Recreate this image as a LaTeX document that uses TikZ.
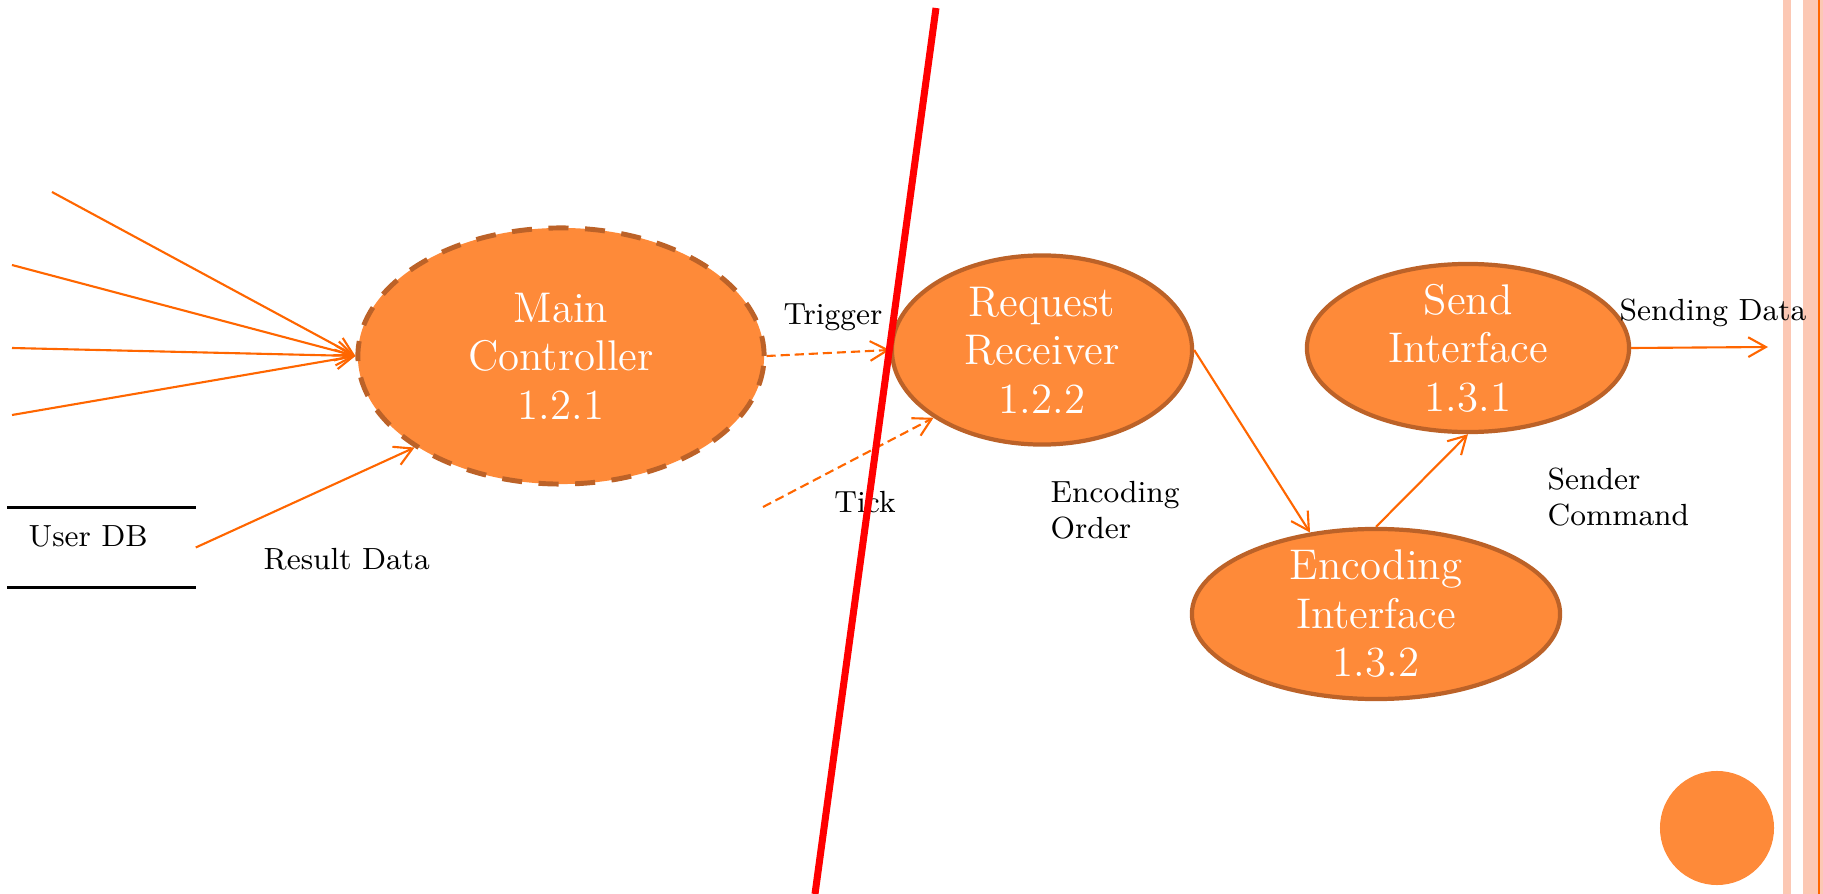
\documentclass[tikz,border=0pt]{standalone}
\usetikzlibrary{shapes.geometric,arrows.meta}
\definecolor{procfill}{RGB}{254,138,57}
\definecolor{procedge}{RGB}{188,98,40}
\definecolor{flowc}{RGB}{255,102,0}
\definecolor{stripec}{RGB}{252,200,180}
\begin{document}
\begin{tikzpicture}[x=0.01cm,y=-0.01cm,
  proc/.style={ellipse,fill=procfill,draw=procedge,line width=1.2pt,text=white,align=center,
    font=\fontsize{12.2}{13.8}\selectfont,inner xsep=0pt,inner ysep=-1.5pt},
  lbl/.style={font=\fontsize{8.7}{10}\selectfont,inner sep=0pt,align=left,anchor=base west},
  flow/.style={draw=flowc,line width=0.6pt,-{Straight Barb[length=5pt,width=5.6pt]}},
  dflow/.style={flow,dash pattern=on 2.6pt off 1.4pt}]
\useasboundingbox (0,0) rectangle (1823,894);
% side stripes
\fill[stripec] (1783,0) rectangle (1791,894);
\fill[stripec] (1803,0) rectangle (1823,894);
\draw[flowc,line width=0.3pt] (1819,0) -- (1819,894);

% processes
\node(main) [proc,minimum width=4.06cm,minimum height=2.56cm,line width=1.4pt,dash pattern=on 5.7pt off 4.7pt] at (561,356) {Main\\Controller\\1.2.1};
\node(recv) [proc,minimum width=3.00cm,minimum height=1.89cm] at (1042,350) {Request\\Receiver\\1.2.2};
\node(send) [proc,minimum width=3.22cm,minimum height=1.68cm] at (1468,348) {Send\\Interface\\1.3.1};
\node(enc) [proc,minimum width=3.68cm,minimum height=1.70cm] at (1376,614) {Encoding\\Interface\\1.3.2};
\node(dot) [circle,fill=procfill,inner sep=0pt,minimum size=1.14cm] at (1717,828) {};

% data store
\node(db) [inner sep=0pt,minimum width=1.87cm,minimum height=0.79cm] at (101.5,547.5) {};
\draw[line width=0.8pt] (db.north west) -- (db.north east);
\draw[line width=0.8pt] (db.south west) -- (db.south east);
\node(dbtext) [lbl] at (28,547) {User DB};

% free ends
\coordinate(in1) at (52,192);
\coordinate(in2) at (12,265);
\coordinate(in3) at (12,348);
\coordinate(in4) at (12,415);
\coordinate(tickin) at (763,507);
\coordinate(out) at (1768,347);

% flows
\draw[flow] (in1) -- (main.west);
\draw[flow] (in2) -- (main.west);
\draw[flow] (in3) -- (main.west);
\draw[flow] (in4) -- (main.west);
\draw[flow] (db.east) -- (main.212);
\draw[dflow] (main.east) -- (recv.west);
\draw[dflow] (tickin) -- (recv.212);
\draw[flow] (recv.east) -- (enc.129);
\draw[flow] (enc.north) -- (send.south);
\draw[flow] (send.east) -- (out);

% labels
\node(res) [lbl] at (263,570) {Result Data};
\node(trig) [lbl,anchor=base] at (833,325) {Trigger};
\node(tick) [lbl,anchor=base] at (865,512) {Tick};
\node(encord) [lbl] at (1050,538) {Encoding\\Order};
\node(sendcmd) [lbl] at (1547,525) {Sender\\Command};
\node(senddata) [lbl] at (1619,321) {Sending Data};

% boundary
\coordinate(cuttop) at (936,8);
\coordinate(cutbot) at (815,894);
\draw[red,line width=2pt] (cuttop) -- (cutbot);
\end{tikzpicture}
\end{document}
